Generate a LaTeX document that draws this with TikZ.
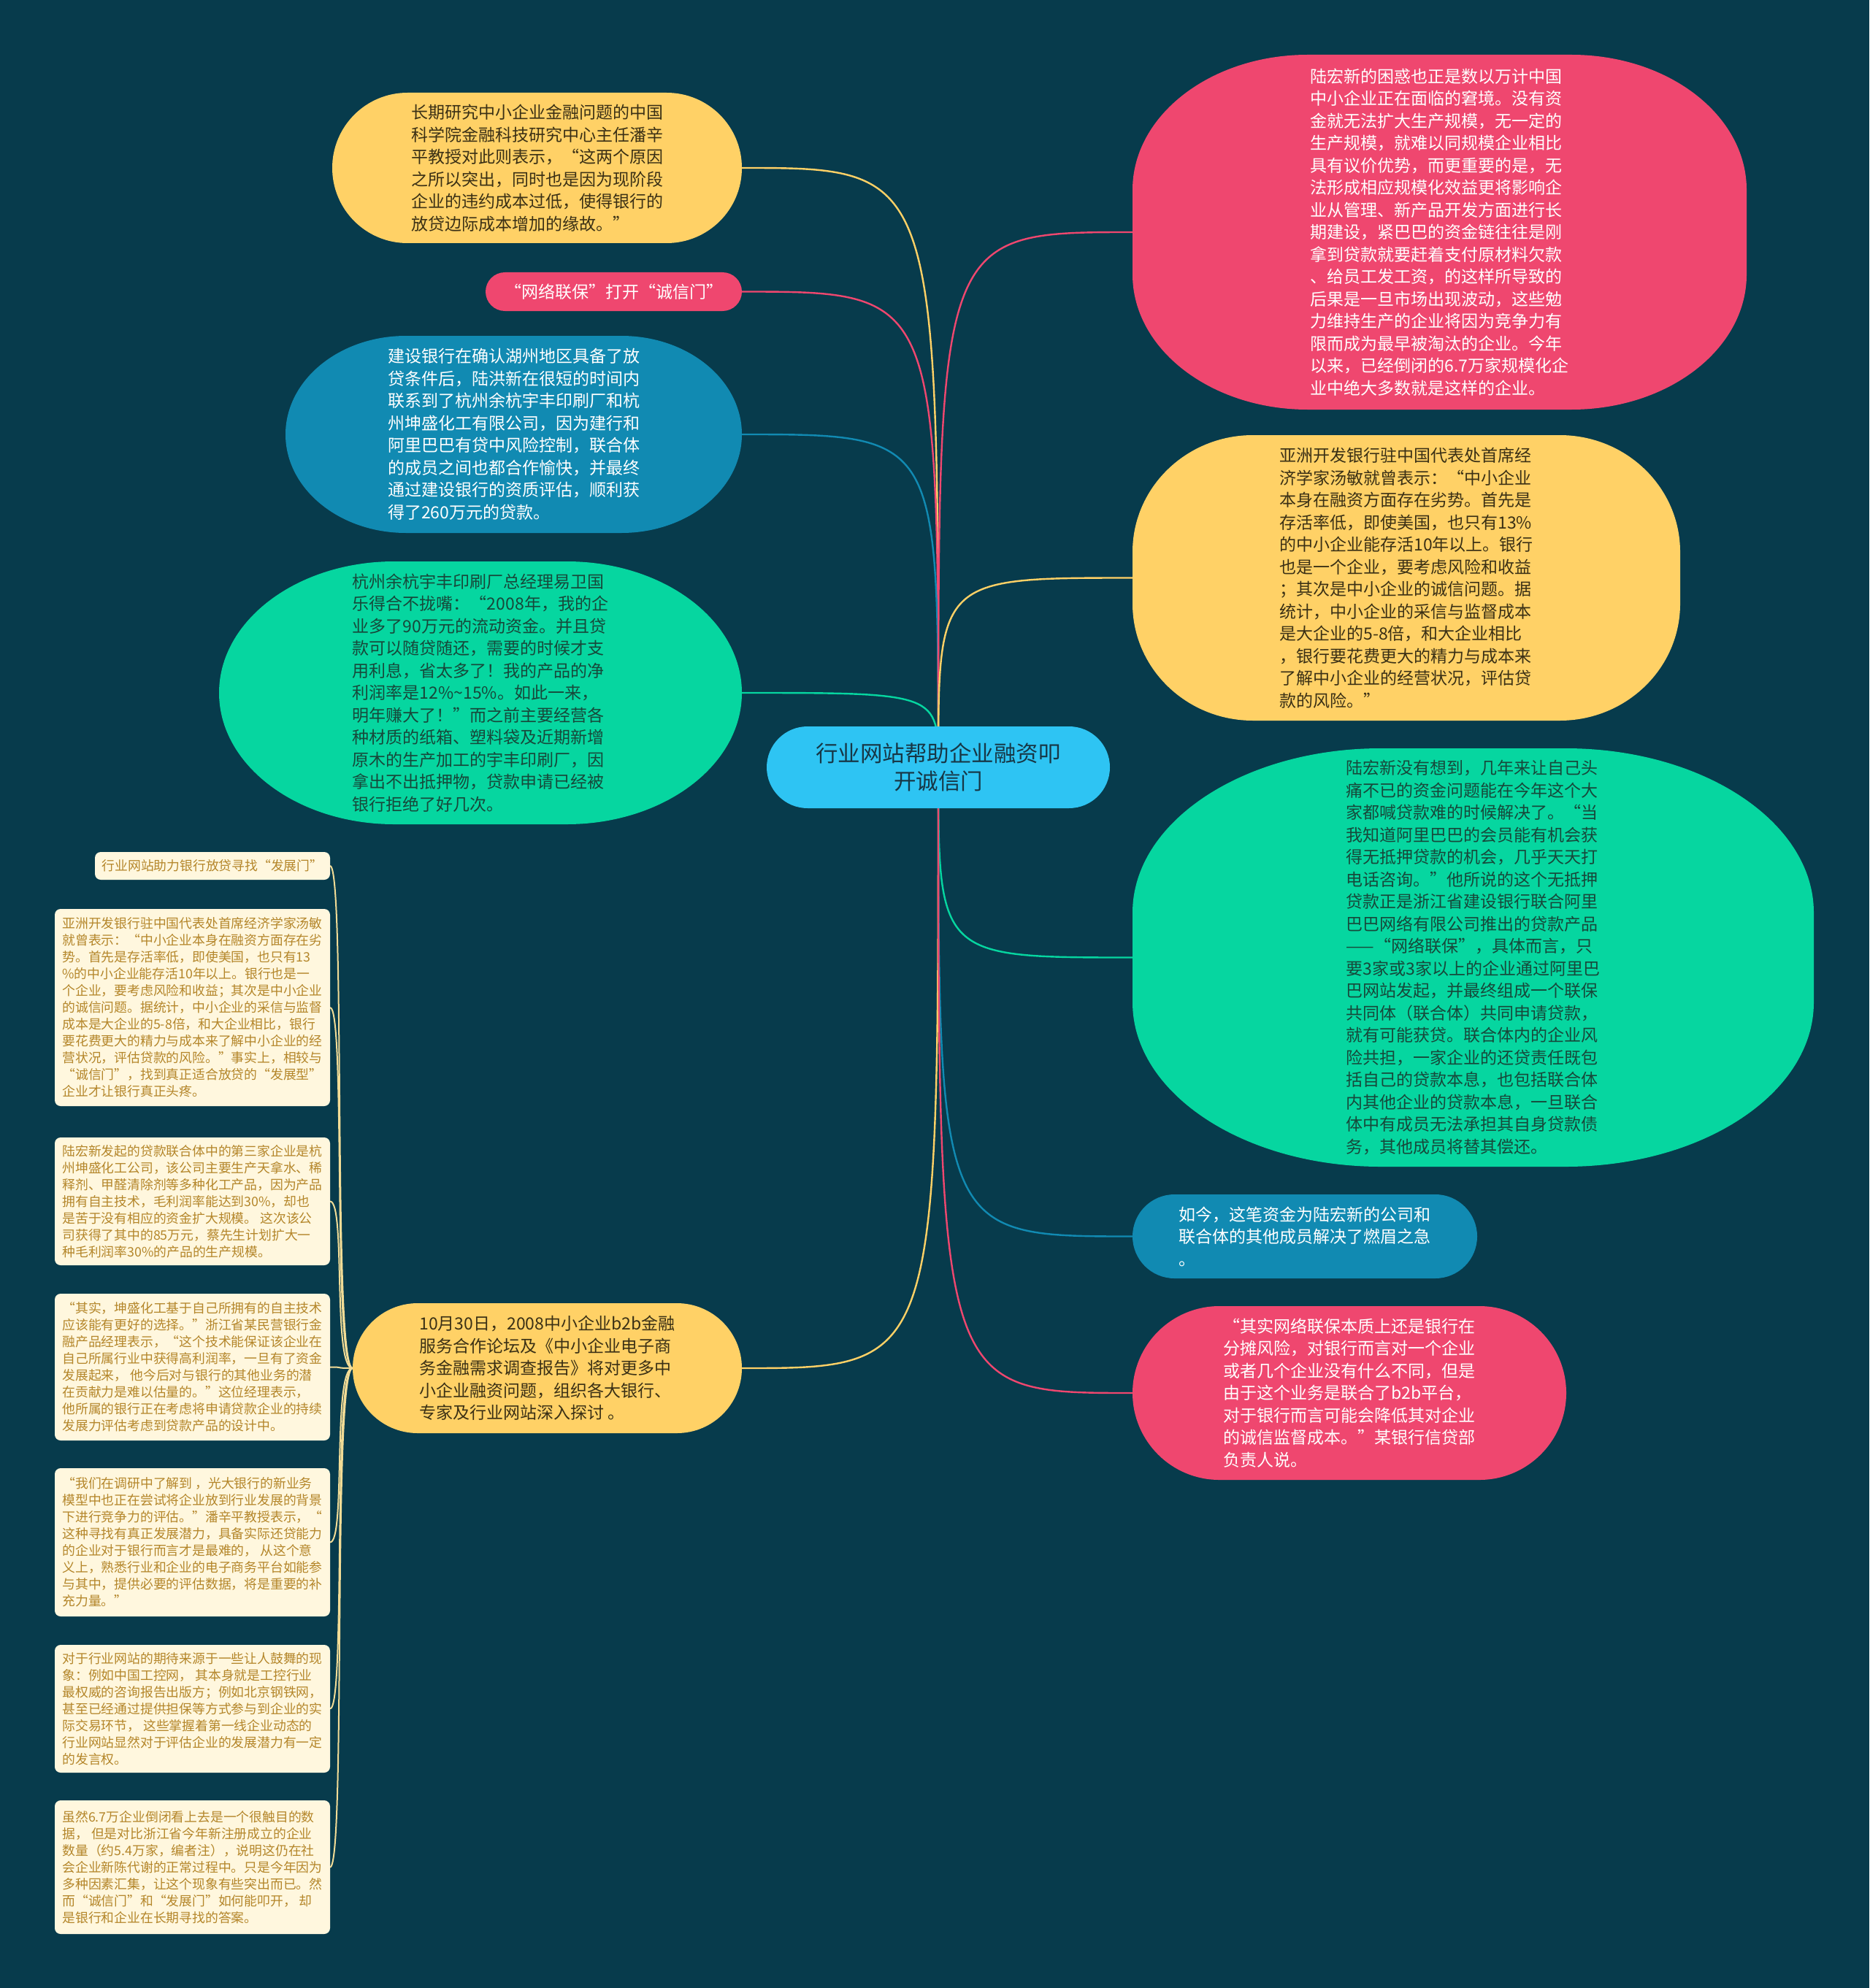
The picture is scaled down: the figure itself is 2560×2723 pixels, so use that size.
\documentclass[tikz,border=0pt]{standalone}
\usepackage{fontspec}
\setmainfont{Noto Sans CJK SC}
\usetikzlibrary{calc}
\definecolor{bgc}{HTML}{073B4C}
\definecolor{yel}{HTML}{FFD166}
\definecolor{pnk}{HTML}{EF476F}
\definecolor{grn}{HTML}{06D6A0}
\definecolor{blu}{HTML}{118AB2}
\definecolor{ctr}{HTML}{2EC4F3}
\definecolor{ytxt}{HTML}{3A3015}
\definecolor{gtxt}{HTML}{17483A}
\definecolor{ctxt}{HTML}{173746}
\definecolor{boxfill}{HTML}{FFF7DE}
\definecolor{boxtext}{HTML}{B4862A}
\definecolor{slinkc}{HTML}{F2DC96}
\pgfdeclarelayer{bg}
\pgfdeclarelayer{edges}
\pgfdeclarelayer{blobs}
\pgfsetlayers{bg,edges,blobs,main}
\newcommand\blob[4]{%
 \begin{pgfonlayer}{blobs}
 \fill[#4] ($(#1.north west)+(#2,0)$) -- ($(#1.north east)+(-#2,0)$)
  .. controls ($(#1.north east)+(-0.4477*#2,0)$) and ($(#1.north east)+(0,0.4477*#3)$) .. ($(#1.north east)+(0,#3)$)
  -- ($(#1.south east)+(0,-#3)$)
  .. controls ($(#1.south east)+(0,-0.4477*#3)$) and ($(#1.south east)+(-0.4477*#2,0)$) .. ($(#1.south east)+(-#2,0)$)
  -- ($(#1.south west)+(#2,0)$)
  .. controls ($(#1.south west)+(0.4477*#2,0)$) and ($(#1.south west)+(0,-0.4477*#3)$) .. ($(#1.south west)+(0,-#3)$)
  -- ($(#1.north west)+(0,#3)$)
  .. controls ($(#1.north west)+(0,0.4477*#3)$) and ($(#1.north west)+(0.4477*#2,0)$) .. ($(#1.north west)+(#2,0)$) -- cycle;
 \end{pgfonlayer}}
\tikzset{
 mainnode/.style={rectangle, inner sep=0pt, outer sep=0pt, align=left, font=\fontsize{11.5pt}{15.25pt}\selectfont},
 ytext/.style={mainnode, text=ytxt},
 gtext/.style={mainnode, text=gtxt},
 wtext/.style={mainnode, text=white},
 smallbox/.style={rectangle, rounded corners=4pt, fill=boxfill, text=boxtext, inner sep=0pt, outer sep=0pt, align=left, minimum width=188.5pt, font=\fontsize{8.9pt}{11.5pt}\selectfont},
 link/.style={line width=1.2pt},
 slink/.style={line width=1pt, draw=slinkc},
}
\begin{document}
\begin{tikzpicture}[x=0.5pt,y=-0.5pt]
\useasboundingbox (0,0) rectangle (2560,2723);
\begin{pgfonlayer}{bg}
\fill[bgc] (0,0) rectangle (2560,2723);
\end{pgfonlayer}

% centre
\node[mainnode, align=center, text=ctxt, minimum width=235pt, minimum height=56pt, font=\fontsize{15.25pt}{19pt}\selectfont] (c) at (1285,1051) {行业网站帮助企业融资叩\\开诚信门};

% left side
\node[ytext, minimum width=280.5pt, minimum height=103pt] (yTL) at (735.5,230) {长期研究中小企业金融问题的中国\\
科学院金融科技研究中心主任潘辛\\
平教授对此则表示，“这两个原因\\
之所以突出，同时也是因为现阶段\\
企业的违约成本过低，使得银行的\\
放贷边际成本增加的缘故。”};

\node[wtext, minimum width=175.5pt, minimum height=26.5pt] (pS) at (840.5,399.5) {“网络联保”打开“诚信门”};

\node[wtext, minimum width=312.5pt, minimum height=135pt] (bL) at (703.5,595) {建设银行在确认湖州地区具备了放\\
贷条件后，陆洪新在很短的时间内\\
联系到了杭州余杭宇丰印刷厂和杭\\
州坤盛化工有限公司，因为建行和\\
阿里巴巴有贷中风险控制，联合体\\
的成员之间也都合作愉快，并最终\\
通过建设银行的资质评估，顺利获\\
得了260万元的贷款。};

\node[gtext, minimum width=358pt, minimum height=180pt] (gL) at (658,949) {杭州余杭宇丰印刷厂总经理易卫国\\
乐得合不拢嘴：“2008年，我的企\\
业多了90万元的流动资金。并且贷\\
款可以随贷随还，需要的时候才支\\
用利息，省太多了！我的产品的净\\
利润率是12\%\textasciitilde 15\%。如此一来，\\
明年赚大了！”而之前主要经营各\\
种材质的纸箱、塑料袋及近期新增\\
原木的生产加工的宇丰印刷厂，因\\
拿出不出抵押物，贷款申请已经被\\
银行拒绝了好几次。};

\node[ytext, minimum width=266.5pt, minimum height=89pt] (yBL) at (749.5,1874) {10月30日，2008中小企业b2b金融\\
服务合作论坛及《中小企业电子商\\
务金融需求调查报告》将对更多中\\
小企业融资问题，组织各大银行、\\
专家及行业网站深入探讨 。};

% right side
\node[wtext, minimum width=420.5pt, minimum height=243pt] (pTR) at (1971.5,318) {陆宏新的困惑也正是数以万计中国\\
中小企业正在面临的窘境。没有资\\
金就无法扩大生产规模，无一定的\\
生产规模，就难以同规模企业相比\\
具有议价优势，而更重要的是，无\\
法形成相应规模化效益更将影响企\\
业从管理、新产品开发方面进行长\\
期建设，紧巴巴的资金链往往是刚\\
拿到贷款就要赶着支付原材料欠款\\
、给员工发工资，的这样所导致的\\
后果是一旦市场出现波动，这些勉\\
力维持生产的企业将因为竞争力有\\
限而成为最早被淘汰的企业。今年\\
以来，已经倒闭的6.7万家规模化企\\
业中绝大多数就是这样的企业。};

\node[ytext, minimum width=375pt, minimum height=195.5pt] (yR) at (1926,791.5) {亚洲开发银行驻中国代表处首席经\\
济学家汤敏就曾表示：“中小企业\\
本身在融资方面存在劣势。首先是\\
存活率低，即使美国，也只有13\%\\
的中小企业能存活10年以上。银行\\
也是一个企业，要考虑风险和收益\\
；其次是中小企业的诚信问题。据\\
统计，中小企业的采信与监督成本\\
是大企业的5-8倍，和大企业相比\\
，银行要花费更大的精力与成本来\\
了解中小企业的经营状况，评估贷\\
款的风险。”};

\node[gtext, minimum width=466.5pt, minimum height=286.5pt] (gR) at (2017.5,1311.5) {陆宏新没有想到，几年来让自己头\\
痛不已的资金问题能在今年这个大\\
家都喊贷款难的时候解决了。“当\\
我知道阿里巴巴的会员能有机会获\\
得无抵押贷款的机会，几乎天天打\\
电话咨询。”他所说的这个无抵押\\
贷款正是浙江省建设银行联合阿里\\
巴巴网络有限公司推出的贷款产品\\
——“网络联保”，具体而言，只\\
要3家或3家以上的企业通过阿里巴\\
巴网站发起，并最终组成一个联保\\
共同体（联合体）共同申请贷款，\\
就有可能获贷。联合体内的企业风\\
险共担，一家企业的还贷责任既包\\
括自己的贷款本息，也包括联合体\\
内其他企业的贷款本息，一旦联合\\
体中有成员无法承担其自身贷款债\\
务，其他成员将替其偿还。};

\node[wtext, minimum width=236pt, minimum height=57.5pt] (bR) at (1787,1693.5) {如今，这笔资金为陆宏新的公司和\\
联合体的其他成员解决了燃眉之急\\
。};

\node[wtext, minimum width=297pt, minimum height=119pt] (pBR) at (1848,1908) {“其实网络联保本质上还是银行在\\
分摊风险，对银行而言对一个企业\\
或者几个企业没有什么不同，但是\\
由于这个业务是联合了b2b平台，\\
对于银行而言可能会降低其对企业\\
的诚信监督成本。”某银行信贷部\\
负责人说。};

% small boxes
\node[smallbox, minimum width=161pt, minimum height=19pt] (s1) at (291,1186) {行业网站助力银行放贷寻找“发展门”};

\node[smallbox, minimum height=135pt] (s2) at (263.5,1380) {亚洲开发银行驻中国代表处首席经济学家汤敏\\
就曾表示：“中小企业本身在融资方面存在劣\\
势。首先是存活率低，即使美国，也只有13\\
\%的中小企业能存活10年以上。银行也是一\\
个企业，要考虑风险和收益；其次是中小企业\\
的诚信问题。据统计，中小企业的采信与监督\\
成本是大企业的5-8倍，和大企业相比，银行\\
要花费更大的精力与成本来了解中小企业的经\\
营状况，评估贷款的风险。”事实上，相较与\\
“诚信门”，找到真正适合放贷的“发展型”\\
企业才让银行真正头疼。};

\node[smallbox, minimum height=87.5pt] (s3) at (263.5,1645.5) {陆宏新发起的贷款联合体中的第三家企业是杭\\
州坤盛化工公司，该公司主要生产天拿水、稀\\
释剂、甲醛清除剂等多种化工产品，因为产品\\
拥有自主技术，毛利润率能达到30\%，却也\\
是苦于没有相应的资金扩大规模。 这次该公\\
司获得了其中的85万元，蔡先生计划扩大一\\
种毛利润率30\%的产品的生产规模。};

\node[smallbox, minimum height=100.5pt] (s4) at (263.5,1872.5) {“其实，坤盛化工基于自己所拥有的自主技术\\
应该能有更好的选择。”浙江省某民营银行金\\
融产品经理表示，“这个技术能保证该企业在\\
自己所属行业中获得高利润率，一旦有了资金\\
发展起来， 他今后对与银行的其他业务的潜\\
在贡献力是难以估量的。”这位经理表示，\\
他所属的银行正在考虑将申请贷款企业的持续\\
发展力评估考虑到贷款产品的设计中。};

\node[smallbox, minimum height=101.5pt] (s5) at (263.5,2112.5) {“我们在调研中了解到 ，光大银行的新业务\\
模型中也正在尝试将企业放到行业发展的背景\\
下进行竞争力的评估。”潘辛平教授表示，“\\
这种寻找有真正发展潜力，具备实际还贷能力\\
的企业对于银行而言才是最难的， 从这个意\\
义上，熟悉行业和企业的电子商务平台如能参\\
与其中，提供必要的评估数据，将是重要的补\\
充力量。”};

\node[smallbox, minimum height=87.5pt] (s6) at (263.5,2340.5) {对于行业网站的期待来源于一些让人鼓舞的现\\
象：例如中国工控网， 其本身就是工控行业\\
最权威的咨询报告出版方；例如北京钢铁网，\\
甚至已经通过提供担保等方式参与到企业的实\\
际交易环节， 这些掌握着第一线企业动态的\\
行业网站显然对于评估企业的发展潜力有一定\\
的发言权。};

\node[smallbox, minimum height=91.5pt] (s7) at (263.5,2557.5) {虽然6.7万企业倒闭看上去是一个很触目的数\\
据， 但是对比浙江省今年新注册成立的企业\\
数量（约5.4万家，编者注），说明这仍在社\\
会企业新陈代谢的正常过程中。只是今年因为\\
多种因素汇集，让这个现象有些突出而已。然\\
而“诚信门”和“发展门”如何能叩开， 却\\
是银行和企业在长期寻找的答案。};

% shapes
\blob{c}{56}{56}{ctr}
\blob{yTL}{103}{103}{yel}
\blob{pS}{26.5}{26.5}{pnk}
\blob{bL}{165}{135}{blu}
\blob{gL}{240}{180}{grn}
\blob{yBL}{89}{89}{yel}
\blob{pTR}{240}{185}{pnk}
\blob{yR}{165}{160}{yel}
\blob{gR}{340}{225}{grn}
\blob{bR}{57.5}{57.5}{blu}
\blob{pBR}{119}{119}{pnk}

% connectors
\begin{pgfonlayer}{edges}
\draw[link, yel] (c.center) .. controls (c.center |- yTL.east) .. (yTL.east);
\draw[link, pnk] (c.center) .. controls (c.center |- pS.east) .. (pS.east);
\draw[link, blu] (c.center) .. controls (c.center |- bL.east) .. (bL.east);
\draw[link, grn] (c.center) .. controls (c.center |- gL.east) .. (gL.east);
\draw[link, yel] (c.center) .. controls (c.center |- yBL.east) .. (yBL.east);
\draw[link, pnk] (c.center) .. controls (c.center |- pTR.west) .. (pTR.west);
\draw[link, yel] (c.center) .. controls (c.center |- yR.west) .. (yR.west);
\draw[link, grn] (c.center) .. controls (c.center |- gR.west) .. (gR.west);
\draw[link, blu] (c.center) .. controls (c.center |- bR.west) .. (bR.west);
\draw[link, pnk] (c.center) .. controls (c.center |- pBR.west) .. (pBR.west);
\foreach \s in {s1,s2,s3,s4,s5,s6,s7}
  \draw[slink] (yBL.west) .. controls +(-28,0) and +(22,0) .. (\s.east);
\end{pgfonlayer}
\end{tikzpicture}
\end{document}
